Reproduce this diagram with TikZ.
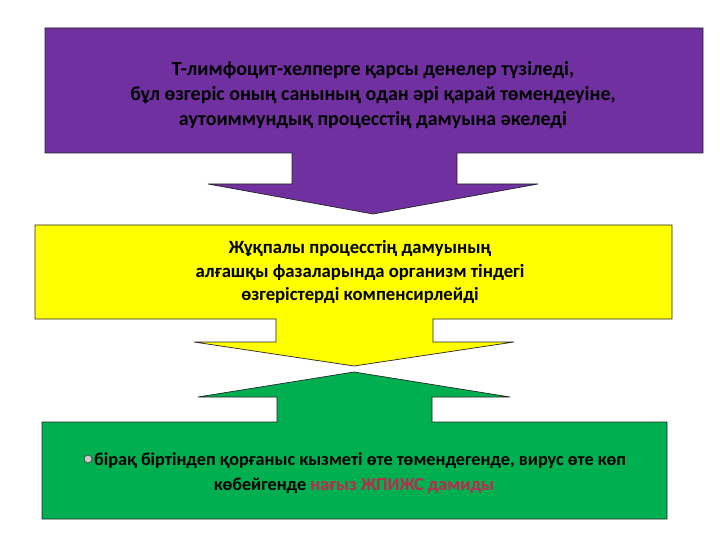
\documentclass[tikz,border=0pt]{standalone}
\usepackage{fontspec}
\setmainfont{Carlito}
\definecolor{purp}{RGB}{112,48,160}
\definecolor{yel}{RGB}{255,255,0}
\definecolor{grn}{RGB}{0,176,80}
\definecolor{redtxt}{RGB}{196,36,78}
\begin{document}
\begin{tikzpicture}[x=1pt,y=-1pt,
  shapeline/.style={draw=black!85,line width=0.7pt,line join=miter},
  txt/.style={align=center,inner sep=0pt}]
\useasboundingbox (0,0) rectangle (720,540);
\fill[white] (0,0) rectangle (720,540);
% purple box with down arrow
\path[shapeline,fill=purp] (45,28) -- (703,28) -- (703,153) -- (457,153) -- (457,184) -- (538,184)
  -- (373,214) -- (208,184) -- (292,184) -- (292,153) -- (45,153) -- cycle;
% yellow box with down arrow
\path[shapeline,fill=yel] (35,225) -- (672,225) -- (672,319) -- (433,319) -- (433,342) -- (514,342)
  -- (354,366) -- (194,342) -- (276,342) -- (276,319) -- (35,319) -- cycle;
% green box with up arrow
\path[shapeline,fill=grn] (42,422) -- (277,422) -- (277,397) -- (198,397) -- (354,372) -- (510,397)
  -- (432,397) -- (432,422) -- (667,422) -- (667,519) -- (42,519) -- cycle;
\node[txt,font=\bfseries\fontsize{20}{24.7}\selectfont] (t1) at (373,95) {Т-лимфоцит-хелперге қарсы денелер түзіледі,\\
бұл өзгеріс оның санының одан әрі қарай төмендеуіне,\\
аутоиммундық процесстің дамуына әкеледі};
\node[txt,font=\bfseries\fontsize{18.7}{23.5}\selectfont] (t2) at (360,272) {Жұқпалы процесстің дамуының\\
алғашқы фазаларында организм тіндегі\\
өзгерістерді компенсирлейді};
\node[txt,anchor=west,font=\bfseries\fontsize{18.2}{25}\selectfont] (t3) at (94,461) {бірақ біртіндеп қорғаныс кызметі өте төмендегенде, вирус өте көп};
\node[txt,font=\bfseries\fontsize{18.2}{25}\selectfont] (t4) at (354,486) {көбейгенде \textcolor{redtxt}{нағыз ЖПИЖС дамиды}};
\node[circle,draw=black!70,fill=gray!40,line width=0.8pt,minimum size=8pt,inner sep=0pt] (b) at (88,459) {};
\end{tikzpicture}
\end{document}
